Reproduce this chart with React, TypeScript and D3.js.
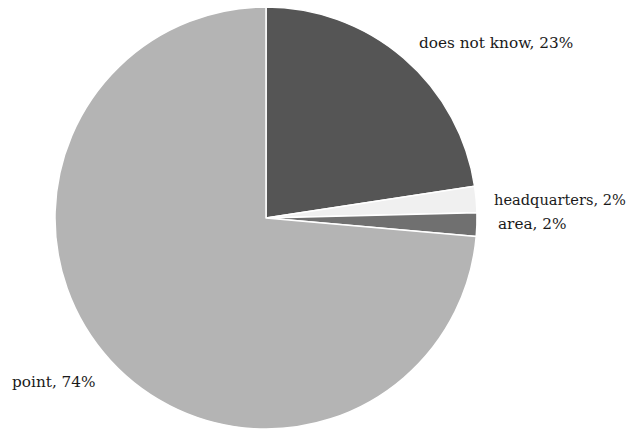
import React from "react";
import * as d3 from "d3";

const categories = ["does not know", "headquarters", "area", "point"];
const values = [22.6, 2.0, 1.8, 73.6];
const labels = ["does not know, 23%", "headquarters, 2%", "area, 2%", "point, 74%"];
const colors = ["#555555", "#f0f0f0", "#707070", "#b4b4b4"];

const W = 631, H = 432;
const cx = 266, cy = 218, R = 211;
const labelPos: [number, number][] = [[419, 48], [494, 205], [498, 229], [12, 387]];

export default function App() {
  const pie = d3.pie<number>().sort(null).value((d) => d);
  const arcs = pie(values);
  const arc = d3.arc<d3.PieArcDatum<number>>().innerRadius(0).outerRadius(R);
  return (
    <svg width={W} height={H} style={{ position: "absolute", left: 0, top: 0 }}>
      <rect width={W} height={H} fill="#ffffff" />
      <g transform={`translate(${cx},${cy})`}>
        {arcs.map((a, i) => (
          <path key={categories[i]} d={arc(a) || ""} fill={colors[i]} stroke="#ffffff" strokeWidth={1.5} strokeLinejoin="round" />
        ))}
      </g>
      {labels.map((t, i) => (
        <text
          key={t}
          x={labelPos[i][0]}
          y={labelPos[i][1]}
          fontFamily="DejaVu Serif"
          fontSize={i === 1 ? 14.6 : 15.3}
          fill="#1a1a1a"
        >
          {t}
        </text>
      ))}
    </svg>
  );
}
